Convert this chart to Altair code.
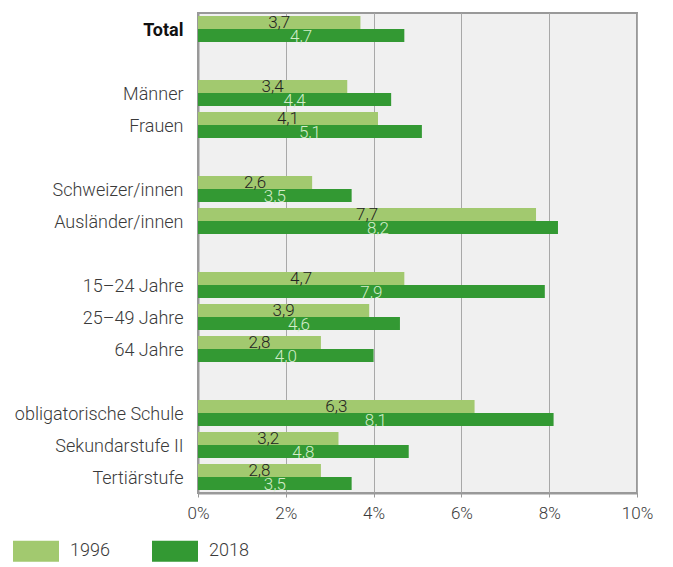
import altair as alt
import pandas as pd

rows = ["Total", " ", "Männer", "Frauen", "  ", "Schweizer/innen", "Ausländer/innen",
        "   ", "15–24 Jahre", "25–49 Jahre", "64 Jahre", "    ",
        "obligatorische Schule", "Sekundarstufe II", "Tertiärstufe"]
categories = ["Total", "Männer", "Frauen", "Schweizer/innen", "Ausländer/innen",
              "15–24 Jahre", "25–49 Jahre", "64 Jahre",
              "obligatorische Schule", "Sekundarstufe II", "Tertiärstufe"]
v1996 = [3.7, 3.4, 4.1, 2.6, 7.7, 4.7, 3.9, 2.8, 6.3, 3.2, 2.8]
v2018 = [4.7, 4.4, 5.1, 3.5, 8.2, 7.9, 4.6, 4.0, 8.1, 4.8, 3.5]
years = ["1996", "2018"]
colors = ["#a2c96f", "#339933"]
x_ticks = [0, 2, 4, 6, 8, 10]

records = []
for c, a, b in zip(categories, v1996, v2018):
    records.append({"cat": c, "year": years[0], "v": a})
    records.append({"cat": c, "year": years[1], "v": b})
df = pd.DataFrame(records)

FONT = "Roboto"

y_enc = alt.Y("cat:N", scale=alt.Scale(domain=rows, paddingInner=0.18, paddingOuter=0.09),
              axis=alt.Axis(title=None, ticks=False, labelPadding=15, labelFontSize=18,
                            labelFont=FONT, minExtent=185, maxExtent=185, labelOffset=2,
                            labelFontWeight={"condition": {"test": "datum.value === 'Total'", "value": "bold"}, "value": 300},
                            labelColor={"condition": {"test": "datum.value === 'Total'", "value": "#111111"}, "value": "#3a3a3a"},
                            domainColor="#999999", domainWidth=2, grid=False))
yoff = alt.YOffset("year:N", scale=alt.Scale(domain=years, paddingInner=0, paddingOuter=0))

bars = alt.Chart(df).mark_bar().encode(
    x=alt.X("v:Q", scale=alt.Scale(domain=[0, 10], nice=False),
            axis=alt.Axis(title=None, values=x_ticks, labelExpr="datum.value + '%'",
                          labelFontSize=17, labelFont=FONT, labelFontWeight=300, labelColor="#3a3a3a",
                          labelFlush=False, labelOverlap=False,
                          tickSize=4, tickColor="#999999", labelPadding=8,
                          domainColor="#999999", domainWidth=2,
                          grid=True, gridColor="#a8a8a8", gridWidth=1)),
    y=y_enc,
    yOffset=yoff,
    color=alt.Color("year:N", scale=alt.Scale(domain=years, range=colors),
                    legend=alt.Legend(title=None, orient="none", legendX=-185, legendY=515,
                                      direction="horizontal", symbolType="M-1,-0.4565H1V0.4565H-1Z",
                                      symbolSize=2116, symbolStrokeWidth=0, symbolOpacity=1,
                                      labelFontSize=18, labelFont=FONT, labelFontWeight=300,
                                      labelColor="#3a3a3a", labelOffset=11, columnPadding=42,
                                      padding=0)),
)

text = alt.Chart(df).transform_calculate(
    mid="datum.v / 2",
    lab="replace(format(datum.v, '.1f'), '.', ',')"
).mark_text(font=FONT, fontSize=17, fontWeight=300, baseline="alphabetic", dy=6, align="center").encode(
    x=alt.X("mid:Q"),
    y=alt.Y("cat:N", scale=alt.Scale(domain=rows)),
    yOffset=yoff,
    text="lab:N",
    color=alt.Color("year:N", scale=alt.Scale(domain=years, range=["#222222", "#d2ecc9"]), legend=None),
)

chart = alt.layer(bars, text).resolve_scale(color="independent").properties(
    width=439, height=480,
    padding={"left": 5, "top": 5, "right": 5, "bottom": 5},
).configure_view(stroke="#999999", strokeWidth=2, fill="#f0f0f0")

chart.save("out.html", embed_options={"renderer": "svg", "actions": False})
